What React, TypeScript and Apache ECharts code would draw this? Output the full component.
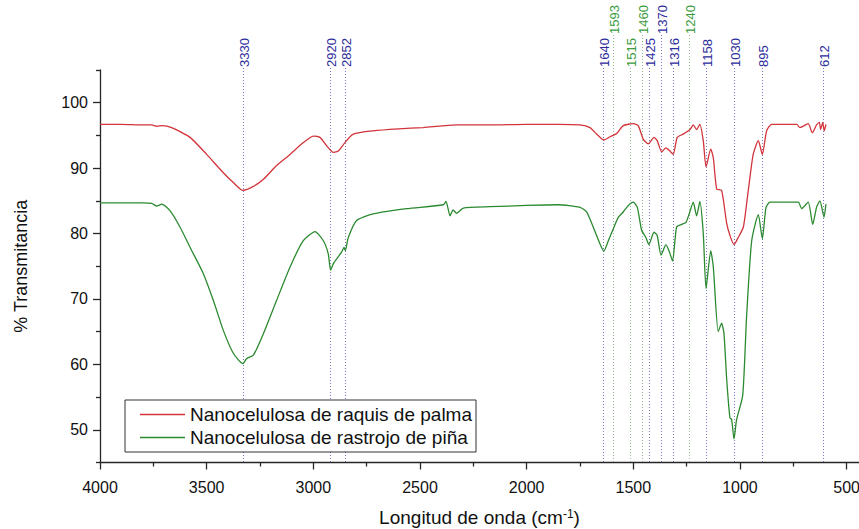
import React, { useEffect, useRef } from "react";
import * as echarts from "echarts";

const seriesNames = ["Nanocelulosa de raquis de palma", "Nanocelulosa de rastrojo de piña"];

const wavenumbersRaquis = [
  4000, 3900, 3800, 3758, 3734, 3710, 3664, 3578, 3500, 3422, 3375, 3330, 3281, 3234, 3172, 3109, 3047, 3000,
  2969, 2937, 2906, 2883, 2852, 2813, 2719, 2600, 2485, 2328, 2172, 2000, 1850, 1750, 1703, 1672, 1638, 1609,
  1578, 1547, 1500, 1477, 1453, 1430, 1403, 1388, 1367, 1347, 1328, 1313, 1294, 1266, 1234, 1219, 1203, 1188,
  1172, 1159, 1137, 1125, 1109, 1086, 1062, 1047, 1028, 1008, 984, 961, 938, 914, 895, 875, 851, 734, 719, 680,
  661, 641, 628, 622, 612, 605, 597,
];
const transRaquis = [
  96.7, 96.7, 96.6, 96.6, 96.4, 96.5, 96.2, 94.7, 92.1, 89.3, 87.8, 86.6, 87.2, 88.3, 90.4, 92.1, 93.9, 94.9,
  94.7, 93.4, 92.4, 92.6, 93.9, 95.2, 95.7, 96.0, 96.2, 96.6, 96.6, 96.7, 96.7, 96.6, 96.2, 95.2, 94.3, 94.8,
  95.3, 96.5, 96.8, 96.5, 94.4, 93.7, 94.7, 94.2, 92.5, 93.1, 92.6, 92.1, 94.7, 95.2, 95.9, 96.6, 95.9, 96.7,
  94.2, 90.2, 92.9, 91.6, 86.8, 86.6, 81.5, 79.7, 78.3, 79.4, 81.0, 86.6, 92.1, 94.2, 92.1, 95.7, 96.7, 96.7, 96.2, 96.8,
  95.4, 96.6, 97.0, 95.9, 97.0, 95.7, 96.7,
];

const wavenumbersPina = [
  4000, 3900, 3800, 3758, 3734, 3710, 3672, 3625, 3578, 3516, 3469, 3422, 3375, 3330, 3312, 3281, 3234, 3172,
  3109, 3047, 2992, 2953, 2930, 2919, 2906, 2867, 2856, 2850, 2836, 2797, 2719, 2562, 2391, 2378, 2359, 2345,
  2328, 2297, 2172, 2000, 1850, 1750, 1719, 1688, 1656, 1638, 1617, 1594, 1570, 1547, 1523, 1500, 1481, 1461,
  1441, 1427, 1403, 1388, 1370, 1347, 1331, 1316, 1297, 1273, 1253, 1238, 1219, 1203, 1188, 1172, 1159, 1137,
  1125, 1102, 1086, 1075, 1062, 1047, 1039, 1028, 1016, 987, 969, 945, 914, 895, 878, 859, 727, 711, 680, 659,
  641, 625, 606, 597,
];
const transPina = [
  84.7, 84.7, 84.7, 84.6, 84.2, 84.5, 83.5, 81.0, 77.9, 73.9, 69.8, 65.2, 61.7, 60.1, 60.9, 61.4, 64.7, 69.8,
  74.9, 78.9, 80.3, 78.9, 76.9, 74.4, 75.4, 77.2, 77.9, 77.4, 79.4, 82.0, 83.0, 83.8, 84.4, 84.9, 82.7, 83.6,
  83.1, 83.9, 84.1, 84.3, 84.4, 84.0, 83.3, 81.0, 78.4, 77.3, 78.9, 80.7, 82.5, 83.3, 84.3, 84.8, 84.0, 80.5,
  79.4, 78.3, 80.2, 79.7, 76.7, 78.3, 77.2, 75.8, 81.0, 81.4, 81.7, 83.0, 84.8, 82.7, 84.9, 80.0, 71.6, 77.4,
  74.9, 65.0, 66.3, 64.7, 57.6, 51.8, 51.6, 48.6, 51.5, 55.3, 67.3, 78.9, 82.9, 79.2, 84.0, 84.8, 84.8, 83.8, 84.8, 81.4,
  84.0, 85.0, 82.5, 84.5,
];

const xMajorTicks = [4000, 3500, 3000, 2500, 2000, 1500, 1000, 500];
const xMinorTicks = [3750, 3250, 2750, 2250, 1750, 1250, 750];
const yMajorTicks = [50, 60, 70, 80, 90, 100];
const yMinorTicks = [45, 55, 65, 75, 85, 95, 105];

const peakLabels = [3330, 2920, 2852, 1640, 1593, 1515, 1460, 1425, 1370, 1316, 1240, 1158, 1030, 895, 612];
const peakGroup = ["b", "b", "b", "b", "g", "g", "g", "b", "b", "b", "g", "b", "b", "b", "b"];
const raisedPeaks = [1593, 1460, 1370, 1240];

const FONT = "'Liberation Sans', Arial, Helvetica, sans-serif";

export default function App() {
  const ref = useRef<HTMLDivElement>(null);

  useEffect(() => {
    if (!ref.current) return;
    const chart = echarts.init(ref.current, null, { renderer: "svg" });
    const axisColor = "#262626";
    const option: any = {
      animation: false,
      backgroundColor: "#ffffff",
      textStyle: { fontFamily: FONT },
      grid: { left: 100, right: 0, top: 70, bottom: 66.5, containLabel: false, outerBoundsMode: "none" },
      legend: {
        left: 125,
        top: 400,
        orient: "vertical",
        padding: [4, 4, 4, 15],
        itemGap: 2,
        itemWidth: 45,
        itemHeight: 1.5,
        icon: "rect",
        borderColor: "#333",
        borderWidth: 1,
        borderRadius: 0,
        backgroundColor: "#ffffff",
        z: 20,
        textStyle: { fontSize: 19, color: "#111", lineHeight: 21, fontFamily: FONT },
        data: seriesNames,
      },
      xAxis: [
        {
          type: "value",
          min: 442,
          max: 4000,
          inverse: true,
          position: "bottom",
          name: "Longitud de onda (cm{sup|-1})",
          nameLocation: "middle",
          nameGap: 45,
          nameTextStyle: {
            fontSize: 19,
            color: "#111",
            fontFamily: FONT,
            rich: {
              sup: { fontSize: 12, verticalAlign: "top", lineHeight: 19, color: "#111", fontFamily: FONT },
            },
          },
          axisLine: { show: true, lineStyle: { color: axisColor, width: 1.3 } },
          axisTick: { show: true, length: 7, inside: false, customValues: xMajorTicks, lineStyle: { color: axisColor, width: 1.3 } },
          axisLabel: {
            show: true,
            customValues: xMajorTicks,
            formatter: (v: number) => String(v),
            fontSize: 16,
            color: "#111",
            margin: 17,
            fontFamily: FONT,
          },
          splitLine: { show: false },
        },
        {
          type: "value",
          min: 442,
          max: 4000,
          inverse: true,
          position: "bottom",
          axisLine: { show: false },
          axisTick: { show: true, length: 4, inside: false, customValues: xMinorTicks, lineStyle: { color: axisColor, width: 1.3 } },
          axisLabel: { show: false },
          splitLine: { show: false },
        },
      ],
      yAxis: [
        {
          type: "value",
          min: 45,
          max: 105,
          position: "left",
          name: "% Transmitancia",
          nameLocation: "middle",
          nameGap: 70,
          nameTextStyle: { fontSize: 18, color: "#111", fontFamily: FONT },
          axisLine: { show: true, lineStyle: { color: axisColor, width: 1.3 } },
          axisTick: { show: true, length: 7, inside: false, customValues: yMajorTicks, lineStyle: { color: axisColor, width: 1.3 } },
          axisLabel: {
            show: true,
            customValues: yMajorTicks,
            formatter: (v: number) => String(v),
            fontSize: 16,
            color: "#111",
            margin: 12,
            fontFamily: FONT,
          },
          splitLine: { show: false },
        },
        {
          type: "value",
          min: 45,
          max: 105,
          position: "left",
          axisLine: { show: false },
          axisTick: { show: true, length: 4, inside: false, customValues: yMinorTicks, lineStyle: { color: axisColor, width: 1.3 } },
          axisLabel: { show: false },
          splitLine: { show: false },
        },
      ],
      series: [
        {
          name: seriesNames[0],
          type: "line",
          xAxisIndex: 0,
          yAxisIndex: 0,
          data: wavenumbersRaquis.map((w, i) => [w, transRaquis[i]]),
          showSymbol: false,
          symbol: "none",
          smooth: 0.2,
          z: 5,
          lineStyle: { color: "#d2343a", width: 1.3 },
          itemStyle: { color: "#d2343a" },
        },
        {
          name: seriesNames[1],
          type: "line",
          xAxisIndex: 0,
          yAxisIndex: 0,
          data: wavenumbersPina.map((w, i) => [w, transPina[i]]),
          showSymbol: false,
          symbol: "none",
          smooth: 0.2,
          z: 5,
          lineStyle: { color: "#2b8a2f", width: 1.3 },
          itemStyle: { color: "#2b8a2f" },
        },
      ],
    };
    chart.setOption(option);

    const yBottom = chart.convertToPixel({ yAxisIndex: 0 }, 45) as number;
    const elements: any[] = [];
    peakLabels.forEach((w, i) => {
      const px = Math.round(chart.convertToPixel({ xAxisIndex: 0 }, w) as number) + 0.5;
      const raised = raisedPeaks.indexOf(w) >= 0;
      const bottom = raised ? 34 : 67;
      const isBlue = peakGroup[i] === "b";
      const textColor = isBlue ? "#2c2c9c" : "#3a9a3c";
      const lineColor = isBlue ? "#7676c6" : "#93b893";
      elements.push({
        type: "line",
        z: 1,
        silent: true,
        shape: { x1: px, y1: bottom + 1, x2: px, y2: yBottom },
        style: { stroke: lineColor, lineWidth: 1, lineDash: [1, 2] },
      });
      elements.push({
        type: "text",
        z: 1,
        silent: true,
        x: px + 1,
        y: bottom,
        rotation: Math.PI / 2,
        style: {
          text: String(w),
          fill: textColor,
          font: `13px ${FONT}`,
          fontSize: 13,
          fontFamily: FONT,
          align: "left",
          verticalAlign: "middle",
          textAlign: "left",
          textVerticalAlign: "middle",
        },
      });
    });
    chart.setOption({ graphic: { elements } });

    return () => {
      chart.dispose();
    };
  }, []);

  return (
    <div
      ref={ref}
      style={{ position: "fixed", left: 0, top: 0, width: 859, height: 529, background: "#fff" }}
    />
  );
}
